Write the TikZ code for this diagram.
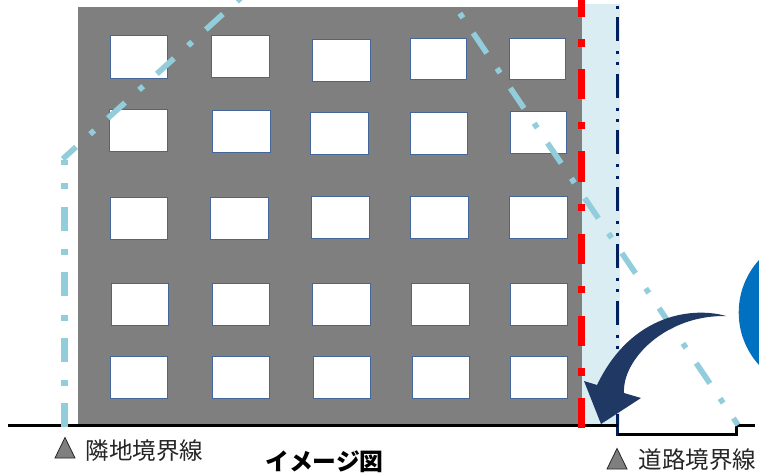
\documentclass[tikz,border=0pt]{standalone}
\usepackage{fontspec}
\newfontfamily\jpfont{Noto Sans CJK JP}
\definecolor{wallgray}{HTML}{7F7F7F}
\definecolor{setback}{HTML}{DAEDF3}
\definecolor{winedge}{HTML}{44669A}
\definecolor{slant}{HTML}{92CDDC}
\definecolor{roadline}{HTML}{002060}
\definecolor{arrowblue}{HTML}{1F3864}
\definecolor{discblue}{HTML}{0070C0}
\definecolor{labeltext}{HTML}{262626}
\tikzset{
  wall/.style={fill=wallgray,draw=none},
  win/.style={fill=white,draw=winedge,line width=0.9pt},
  slantline/.style={draw=slant,line width=5.6pt,line cap=butt},
  redline/.style={draw=red,line width=7.5pt,dash pattern=on 30pt off 22.4pt on 7.3pt off 22.5pt},
  navyline/.style={draw=roadline,line width=3pt,dash pattern=on 24pt off 10pt on 3pt off 8.5pt on 3pt off 8.2pt,dash phase=43.7pt},
  ground/.style={draw=black,line width=2.8pt,line join=miter},
  marker/.style={fill=wallgray,draw=labeltext,line width=0.8pt,line join=miter},
  lab/.style={inner sep=0pt,text=labeltext,font=\jpfont\fontsize{23.5}{23.5}\selectfont},
  ttl/.style={inner sep=0pt,text=black,font=\jpfont\bfseries\fontsize{23.8}{23.8}\selectfont}
}
\begin{document}
\begin{tikzpicture}[x=1pt,y=-1pt]
\useasboundingbox (0,0) rectangle (759,473);
\clip (0,0) rectangle (759,473);
\fill[white] (0,0) rectangle (759,473);
\fill[discblue] (816.7,312.5) circle[radius=78];
\fill[setback] (582,4) rectangle (620,425);
\path[wall] (78,7) rectangle (582,425);
\foreach \xa/\ya/\xb/\yb in {
 110/35.7/167.3/78.3, 211.7/35/269.3/77.7, 312/39/370/81, 410.3/38/466.3/79.3, 509/38.3/565/79.3,
 109.3/109/167.3/151.7, 212.3/110.3/270.3/152.7, 310.7/112/368.3/154.3, 410/112/467.7/154.3, 510.3/111/566.3/153.3,
 110/197/167.3/239.3, 210.7/197/268.7/239.3, 311.3/196.7/369/238.7, 410.3/196.7/468.3/238.7, 509/196.7/567/238.7,
 111/283.3/168.3/325.3, 212.3/283.3/269.7/325.3, 312.7/283.3/370.7/325.3, 411.7/283.3/469.7/325.3, 510/283.3/567.3/325.3,
 110.3/356/167.7/398, 212/356/269.3/398, 313/356/370.3/398, 412/356/469.3/398, 510/356/567.3/398}
 {\path[win] (\xa,\ya) rectangle (\xb,\yb);}
\draw[navyline] (617.6,4) -- (617.6,435.5);
\draw[ground] (8,425.8) -- (617.6,425.8) (617.6,434.4) -- (736.7,434.4) -- (736.7,425.8) -- (755,425.8);
\draw[redline] (581.5,-12.9) -- (581.5,427.5);
\draw[slantline,line width=6.5pt,dash pattern=on 24pt off 18.3pt on 6pt off 17.3pt,dash phase=19pt] (64.3,160) -- (64.3,428);
\draw[slantline,dash pattern=on 23pt off 19pt on 5.5pt off 18.5pt,dash phase=5pt] (62.7,159) -- (254,-14);
\draw[slantline,dash pattern=on 24.4pt off 18.2pt on 5.5pt off 18.3pt] (436,-22) -- (738,425);
\fill[arrowblue] (726,316) .. controls (695,307) and (632,312) .. (597,385)
  -- (584,381) -- (601,424) -- (641,398) -- (624,393)
  .. controls (622,360) and (665,315) .. (726,316) -- cycle;
\path[marker] (55,458) -- (65,437.5) -- (75,458) -- cycle;
\path[marker] (607,469) -- (617,448.5) -- (627,469) -- cycle;
\node[lab,anchor=west] (neighbor) at (85.5,450.5) {隣地境界線};
\node[lab,anchor=west] (road) at (638.5,460) {道路境界線};
\node[ttl] (caption) at (324.5,461.5) {イメージ図};
\end{tikzpicture}
\end{document}
